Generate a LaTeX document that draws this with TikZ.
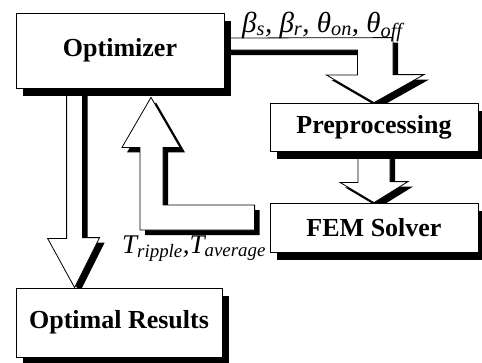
\documentclass[tikz,border=0pt]{standalone}
\usepackage{fontspec}
\setmainfont{Liberation Serif}
\usetikzlibrary{calc}
\usetikzlibrary{shadows, backgrounds}

\begin{document}
\begin{tikzpicture}[x=1pt, y=-1pt,
	box/.style={draw, line width=0.8pt, fill=white, inner sep=0pt,
		minimum width=208pt, font=\fontsize{26}{30}\selectfont\bfseries,
		drop shadow={shadow xshift=7pt, shadow yshift=-8pt, fill=black, opacity=1}},
	blockarrow/.style={draw, line width=0.8pt, fill=white, line join=miter,
		drop shadow={shadow xshift=5pt, shadow yshift=-5pt, fill=black, opacity=1}},
	lbl/.style={font=\fontsize{27}{30}\selectfont\itshape, inner sep=0pt}]
	\useasboundingbox (0,0) rectangle (482,362);
	
	%boxes
	\node[box, minimum height=75pt] (opt) at (120,50.5) {Optimizer};
	\node[box, minimum height=48pt] (pre) at (374,127) {Preprocessing};
	\node[box, minimum height=49pt] (fem) at (374,227.5) {FEM Solver};
	\node[box, minimum height=69pt, minimum width=206pt] (res) at (119,322.5) {Optimal Results};
	
	%free ends of the arrows
	\coordinate (fb) at ($(fem.west)+(-15,-10)$);		%right end of feedback arrow
	\coordinate (fbtip) at ($(opt.south)+(31,9)$);		%tip of feedback arrow
	\coordinate (dn) at ($(opt.south west)+(51,0)$);	%left edge of result arrow
	\coordinate (dntip) at ($(res.north west)+(59,0)$);	%tip of result arrow
	
	%block arrows, behind the boxes
	\begin{scope}[on background layer]
	\draw[blockarrow] ($(opt.east)+(0,-0.5)$) -- ++(133,0) -- ++(0,25) -- ++(-31,0)
		-- (pre.north) -- ++(50,-28) -- ++(-31,0) -- ++(0,-37)
		-- ($(opt.east)+(0,-12.5)$) -- cycle;				%optimizer to preprocessing
	\draw[blockarrow] ($(pre.south)+(-16,0)$) -- ++(0,31) -- ++(-18,0)
		-- (fem.north) -- ++(34,-21) -- ++(-18,0) -- ++(0,-31) -- cycle;	%preprocessing to solver
	\draw[blockarrow] ($(fb)+(0,-12.5)$) -| ($(fbtip)+(12,50)$) -- ++(17,0)
		-- (fbtip) -- ++(-29,50) -- ++(18,0) |- ($(fb)+(0,12.5)$) -- cycle;	%solver back to optimizer
	\draw[blockarrow] (dn) -- ++(0,150) -- ++(-19,0) -- (dntip)
		-- ++(25,-50) -- ++(-17,0) -- ++(0,-150) -- cycle;	%optimizer to results
	\end{scope}
	
	%labels
	\node[lbl, font=\fontsize{29}{32}\selectfont\itshape, anchor=base west] (par) at (242,32)
		{β\textsubscript{s}, β\textsubscript{r}, θ\textsubscript{on}, θ\textsubscript{off}};
	\node[lbl, anchor=base west] (trq) at (122,253) {T\textsubscript{ripple},T\textsubscript{average}};
\end{tikzpicture}
\end{document}
